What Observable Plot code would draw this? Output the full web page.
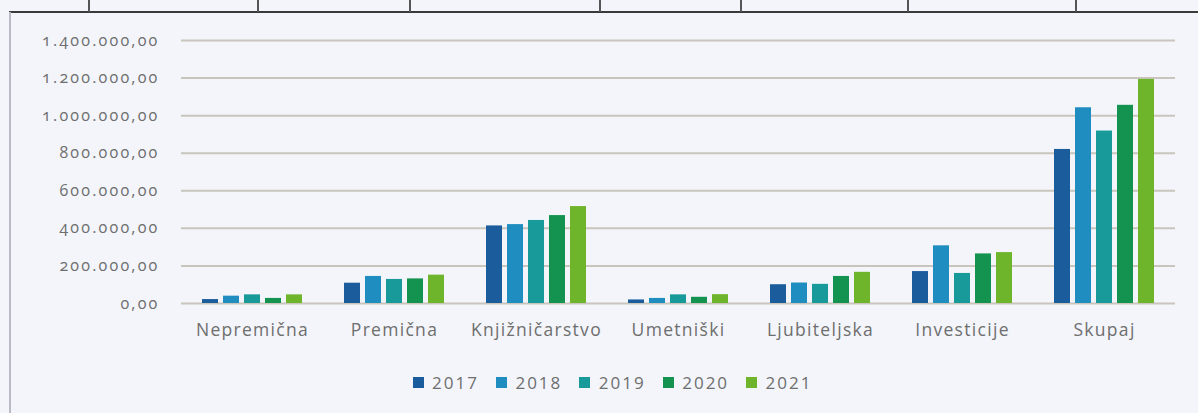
<!DOCTYPE html>
<html>
<head>
<meta charset="utf-8">
<script src="https://cdn.jsdelivr.net/npm/d3@7"></script>
<script src="https://cdn.jsdelivr.net/npm/@observablehq/plot@0.6"></script>
<style>
  html, body { margin: 0; padding: 0; background: #f3f5fa; }
  body { width: 1198px; height: 413px; position: relative; overflow: hidden; font-family: "Open Sans", sans-serif; }
  #frame-left { position: absolute; left: 9px; top: 12px; width: 2px; height: 401px; background: #b9bcc4; }
  #frame-top { position: absolute; left: 9px; top: 11px; width: 1189px; height: 2px; background: #3a3a3a; }
  .div { position: absolute; top: 0; width: 1.5px; height: 12px; background: #555; }
  #chart { position: absolute; left: 0; top: 0; }
  #legend { position: absolute; left: 22px; top: 366px; width: 1198px; display: flex; justify-content: center; }
  div.leg-swatches { justify-content: center !important; font-family: "Open Sans", sans-serif !important; font-size: 17px !important; color: #6e6e6e !important; letter-spacing: 2px; }
  div.leg-swatch { margin-right: 24px !important; }
  div.leg-swatch svg { margin-right: 4px !important; }
  svg text { font-variant-numeric: oldstyle-nums; }
</style>
</head>
<body>
<div id="frame-top"></div>
<div id="frame-left"></div>
<div class="div" style="left:88px"></div>
<div class="div" style="left:257px"></div>
<div class="div" style="left:409px"></div>
<div class="div" style="left:599px"></div>
<div class="div" style="left:740px"></div>
<div class="div" style="left:907px"></div>
<div class="div" style="left:1075px"></div>
<div id="chart"></div>
<div id="legend"></div>
<script>
const categories = ["Nepremična", "Premična", "Knjižničarstvo", "Umetniški", "Ljubiteljska", "Investicije", "Skupaj"];
const years = ["2017", "2018", "2019", "2020", "2021"];
const values2017 = [21000, 108000, 413000, 19000, 100000, 170000, 820000];
const values2018 = [39000, 144000, 420000, 27000, 109000, 307000, 1042000];
const values2019 = [46000, 128000, 442000, 46000, 102000, 160000, 918000];
const values2020 = [27000, 131000, 468000, 33000, 144000, 264000, 1055000];
const values2021 = [46000, 151000, 516000, 47000, 166000, 271000, 1193000];
const yTicks = [0, 200000, 400000, 600000, 800000, 1000000, 1200000, 1400000];
const colors = ["#1b5c9d", "#1f8dc0", "#179a99", "#13934f", "#6fb52b"];

const series = [values2017, values2018, values2019, values2020, values2021];
const data = [];
categories.forEach((c, i) => years.forEach((y, j) => data.push({category: c, year: y, value: series[j][i]})));

const fmt = d3.formatLocale({decimal: ",", thousands: ".", grouping: [3], currency: ["", ""]}).format(",.2f");

const chart = Plot.plot({
  width: 1198,
  height: 345,
  marginTop: 40,
  marginBottom: 42,
  marginLeft: 179,
  marginRight: 22,
  style: {background: "transparent", fontFamily: "Open Sans, sans-serif", color: "#6e6e6e"},
  fx: {domain: categories, padding: 0, label: null},
  x: {domain: years, axis: null, paddingInner: 0.23, paddingOuter: 0.86},
  y: {domain: [0, 1400000], label: null},
  color: {domain: years, range: colors},
  marks: [
    Plot.ruleY(yTicks, {stroke: "#c9c5bd", strokeWidth: 2, strokeOpacity: 1}),
    Plot.barY(data, {fx: "category", x: "year", y: "value", fill: "year"}),
    Plot.axisY({ticks: yTicks, tickFormat: fmt, tickSize: 0, tickPadding: 22, fontSize: 16, label: null, fill: "#6e6e6e"}),
    Plot.axisFx({anchor: "bottom", tickSize: 0, tickPadding: 20, fontSize: 17.5, label: null, fill: "#6e6e6e"})
  ]
});
chart.querySelectorAll('g[aria-label="y-axis tick label"] text').forEach(t => t.setAttribute("letter-spacing", "2.2px"));
chart.querySelectorAll('g[aria-label="fx-axis tick label"] text').forEach(t => t.setAttribute("letter-spacing", "1.3px"));
document.getElementById("chart").appendChild(chart);

const leg = Plot.legend({color: {domain: years, range: colors}, legend: "swatches", swatchSize: 11, className: "leg"});
document.getElementById("legend").appendChild(leg);
</script>
</body>
</html>
